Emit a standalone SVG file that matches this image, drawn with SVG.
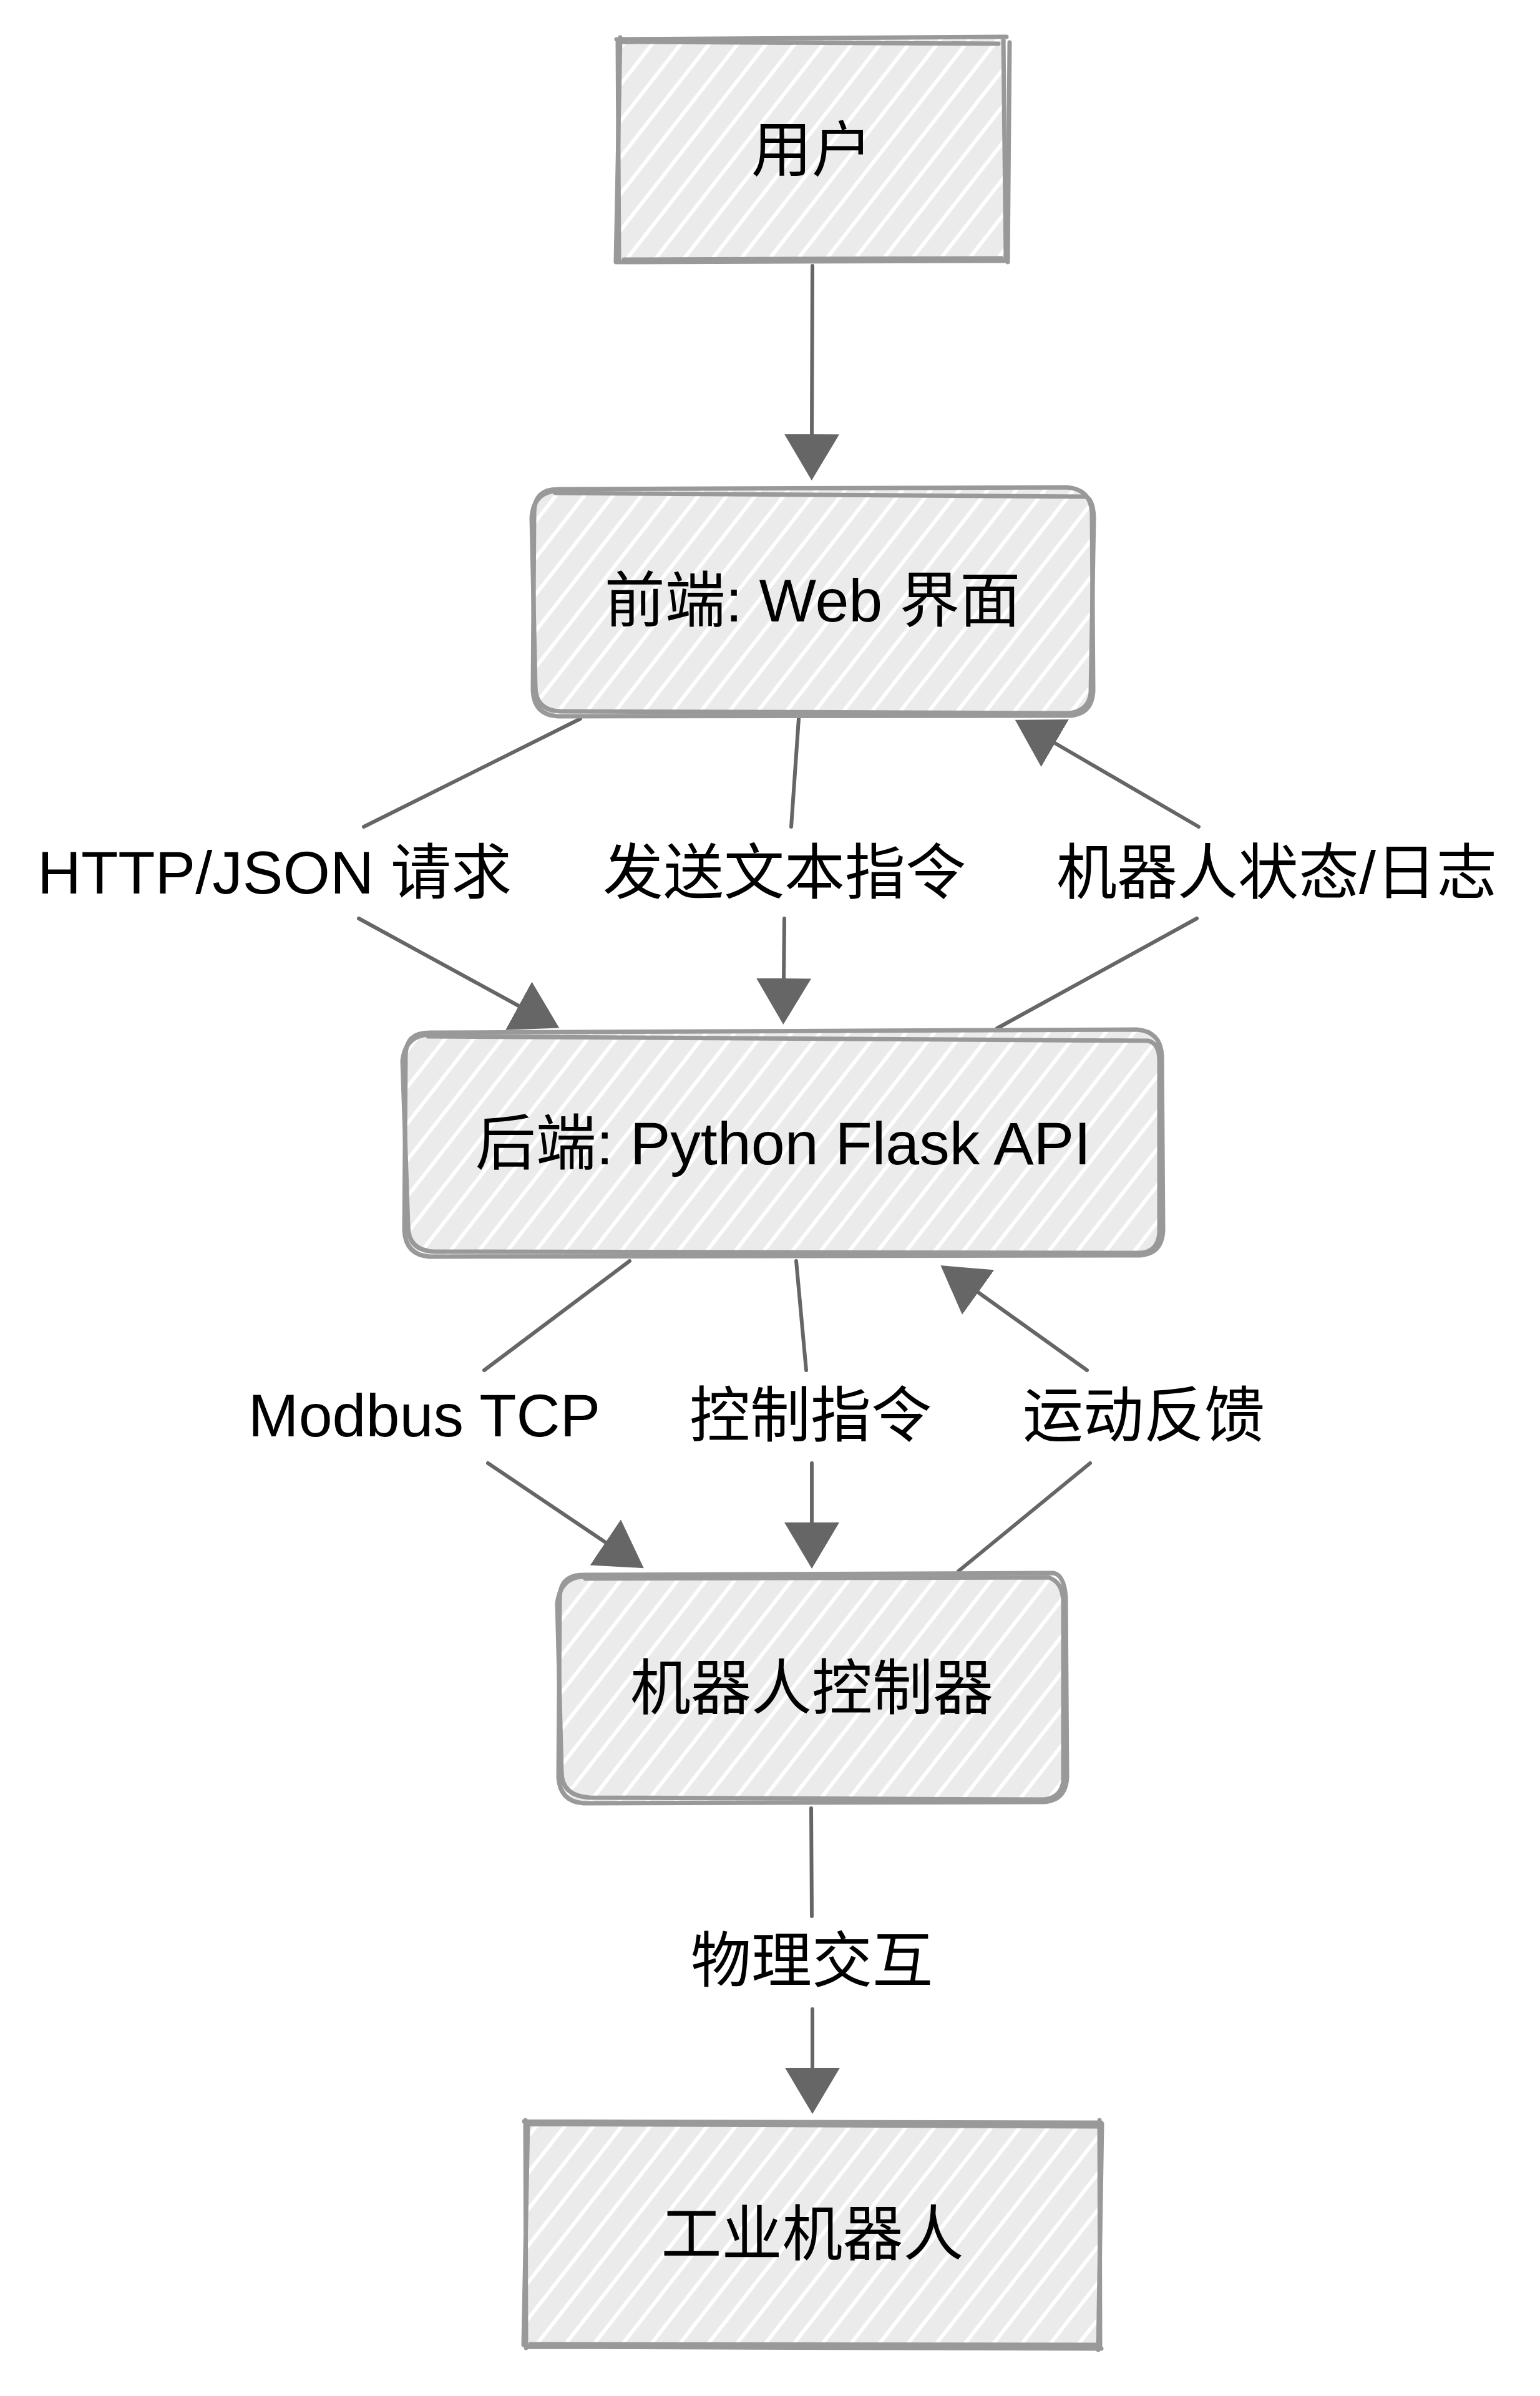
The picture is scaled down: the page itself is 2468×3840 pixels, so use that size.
<svg xmlns="http://www.w3.org/2000/svg" width="2468" height="3840" viewBox="0 0 2468 3840">
<style>
.bg{fill:#fff}
.fill{fill:url(#hatch);stroke:none}
.border{fill:none;stroke:#999;stroke-width:7;stroke-linecap:round;stroke-linejoin:round}
.edge{fill:none;stroke:#666;stroke-width:6;stroke-linecap:round;marker-end:url(#arrow)}
.t{font-family:"Liberation Sans","Noto Sans CJK SC",sans-serif;font-size:97px;fill:#000;text-anchor:middle;dominant-baseline:central}
</style>
<defs>
<pattern id="hatch" patternUnits="userSpaceOnUse" width="36" height="36" patternTransform="rotate(38)">
<rect width="36" height="36" fill="#ebebeb"/>
<rect width="6" height="36" fill="#fff"/>
</pattern>
<marker id="arrow" markerUnits="userSpaceOnUse" markerWidth="74" markerHeight="88" viewBox="0 0 74 88" refX="2" refY="44" orient="auto">
<path d="M0,0 L74,44 L0,88 Z" fill="#666"/>
</marker>
</defs>
<rect class="bg" width="2468" height="3840"/>

<g id="edges">
<path id="e1" class="edge" d="M1302,426 L1301,698"/>
<path id="e2" class="edge" d="M930,1152 L583,1325 M575,1472 L833,1613"/>
<path id="e3" class="edge" d="M1280,1152 L1268,1325 M1257,1472 L1256,1570"/>
<path id="e4" class="edge" d="M1598,1648 L1918,1472 M1921,1325 L1689,1190"/>
<path id="e5" class="edge" d="M1009,2021 L776,2196 M782,2345 L972,2473"/>
<path id="e6" class="edge" d="M1276,2021 L1292,2196 M1301,2345 L1301,2442"/>
<path id="e7" class="edge" d="M1536,2518 L1747,2345 M1742,2196 L1566,2070"/>
<path id="e8" class="edge" d="M1300,2898 L1301,3071 M1302,3220 L1302,3316"/>
<text class="t" x="440" y="1398">HTTP/JSON 请求</text>
<text class="t" x="1257" y="1398">发送文本指令</text>
<text class="t" x="2046" y="1398">机器人状态/日志</text>
<text class="t" x="680" y="2268">Modbus TCP</text>
<text class="t" x="1299" y="2268">控制指令</text>
<text class="t" x="1833" y="2268">运动反馈</text>
<text class="t" x="1301" y="3142">物理交互</text>
</g>

<g id="n1">
<rect class="fill" x="990" y="62" width="622" height="356"/>
<path class="border" d="M988,63 L1613,59 M1608,64 L1612,417 M1614,418 L990,420 M992,417 L990,64"/>
<path class="border" d="M992,67 L1600,70 M1618,68 L1615,420 M1605,414 L1000,416 M987,420 L994,60"/>
<text class="t" x="1301" y="240">用户</text>
</g>

<g id="n2">
<rect class="fill" x="854" y="782" width="896" height="365" rx="40"/>
<path class="border" d="M894,784 L1710,781 Q1748,784 1750,822 L1752,1107 Q1750,1147 1710,1147 L894,1148 Q856,1146 854,1107 L856,822 Q856,784 894,784"/>
<path class="border" d="M890,790 L1740,796 Q1752,800 1753,830 L1748,1110 Q1745,1140 1712,1143 L900,1140 Q858,1140 858,1100 L852,830 Q855,786 896,787"/>
<text class="t" x="1302" y="962">前端: Web 界面</text>
</g>

<g id="n3">
<rect class="fill" x="648" y="1652" width="1214" height="360" rx="40"/>
<path class="border" d="M688,1655 L1822,1650 Q1860,1653 1862,1692 L1864,1972 Q1862,2012 1822,2012 L688,2014 Q650,2011 648,1972 L650,1692 Q650,1655 688,1655"/>
<path class="border" d="M686,1661 L1840,1668 Q1858,1672 1858,1700 L1858,1975 Q1856,2008 1825,2008 L696,2006 Q654,2004 654,1965 L645,1700 Q650,1658 690,1658"/>
<text class="t" x="1255" y="1832">后端: Python Flask API</text>
</g>

<g id="n4">
<rect class="fill" x="895" y="2522" width="813" height="366" rx="40"/>
<path class="border" d="M935,2524 L1688,2521 Q1706,2524 1708,2562 L1710,2848 Q1708,2888 1668,2888 L935,2890 Q897,2887 895,2848 L897,2562 Q897,2524 935,2524"/>
<path class="border" d="M938,2530 L1680,2528 Q1704,2535 1704,2570 L1704,2855 Q1700,2882 1672,2884 L945,2881 Q900,2878 900,2840 L893,2570 Q898,2527 936,2527"/>
<text class="t" x="1301" y="2705">机器人控制器</text>
</g>

<g id="n5">
<rect class="fill" x="842" y="3399" width="921" height="363"/>
<path class="border" d="M840,3400 L1765,3402 M1762,3398 L1763,3762 M1765,3764 L845,3761 M843,3763 L842,3398"/>
<path class="border" d="M845,3404 L1760,3408 M1766,3404 L1760,3766 M1755,3758 L850,3757 M839,3758 L846,3402"/>
<text class="t" x="1302" y="3580">工业机器人</text>
</g>
</svg>
